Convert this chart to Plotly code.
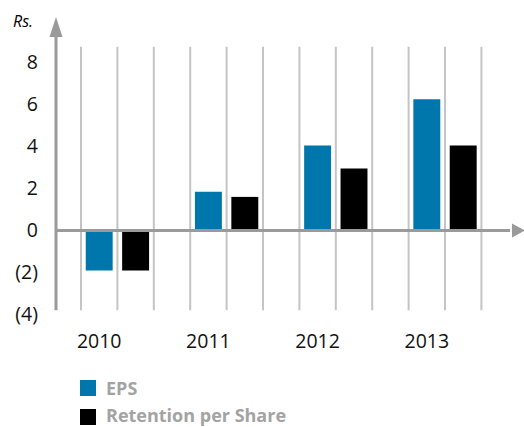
import plotly.graph_objects as go

# Data
years = ["2010", "2011", "2012", "2013"]
eps = [-1.9, 1.85, 4.05, 6.25]
retention = [-1.9, 1.6, 2.95, 4.05]
y_ticks = [-4, -2, 0, 2, 4, 6, 8]
y_tick_text = ["(4)", "(2)", "0", "2", "4", "6", "8"]

BLUE = "#0077AC"
BLACK = "#000000"
GRID = "#c4c4c4"
AXIS = "#9a9a9a"
LEGEND_TXT = "#a3a3a3"
FONT = "Open Sans"

# Each year takes three grid slots: EPS, retention, then a gap
slots_per_year = 3
bar_w = 0.74
x_eps = [slots_per_year * i + 0.5 for i in range(len(years))]
x_ret = [slots_per_year * i + 1.5 for i in range(len(years))]

fig = go.Figure()
fig.add_trace(go.Bar(x=x_eps, y=eps, width=bar_w, marker=dict(color=BLUE, line=dict(width=0)),
                     name="EPS", showlegend=False))
fig.add_trace(go.Bar(x=x_ret, y=retention, width=bar_w, marker=dict(color=BLACK, line=dict(width=0)),
                     name="Retention per Share", showlegend=False))

grid_bottom, grid_top = -3.8, 8.75
shapes = []
# vertical grid lines at slot boundaries
for k in range(slots_per_year * len(years)):
    shapes.append(dict(type="line", xref="x", yref="y", x0=k, x1=k, y0=grid_bottom, y1=grid_top,
                       line=dict(color=GRID, width=2), layer="below"))
# y axis with arrow
shapes.append(dict(type="line", xref="paper", yref="y", x0=0, x1=0, y0=grid_bottom, y1=9.5,
                   line=dict(color=AXIS, width=3), layer="above"))
shapes.append(dict(type="path", xref="paper", yref="paper", xsizemode="pixel", ysizemode="pixel",
                   xanchor=0, yanchor=1, path="M -6.5,-27 L 0,-7 L 6.5,-27 Z",
                   fillcolor=AXIS, line=dict(width=0), layer="above"))
# x axis (zero line) with arrow
shapes.append(dict(type="line", xref="paper", yref="y", x0=0, x1=0.97, y0=0, y1=0,
                   line=dict(color=AXIS, width=3), layer="above"))
shapes.append(dict(type="path", xref="paper", yref="y", xsizemode="pixel", ysizemode="pixel",
                   xanchor=1, yanchor=0, path="M -12,7 L 1,0 L -12,-7 Z",
                   fillcolor=AXIS, line=dict(width=0), layer="above"))
# legend swatches
for color, top in [(BLUE, -60), (BLACK, -89)]:
    shapes.append(dict(type="rect", xref="paper", yref="paper", xsizemode="pixel", ysizemode="pixel",
                       xanchor=0, yanchor=0, x0=24, x1=40, y0=top - 16, y1=top,
                       fillcolor=color, line=dict(width=0)))

annotations = [
    dict(text="<i>Rs.</i>", xref="paper", yref="paper", x=0, y=1, xanchor="left", yanchor="middle",
         xshift=-45, yshift=-11, showarrow=False, font=dict(family=FONT, size=16, color="#000")),
]
for name, shift in [("EPS", -68), ("Retention per Share", -95)]:
    annotations.append(dict(text=f"<b>{name}</b>", xref="paper", yref="paper", x=0, y=0,
                            xanchor="left", yanchor="middle", xshift=49, yshift=shift,
                            showarrow=False, borderpad=0,
                            font=dict(family=FONT, size=18, color=LEGEND_TXT)))

fig.update_layout(
    width=524, height=427,
    margin=dict(l=56, r=0, t=10, b=107),
    paper_bgcolor="white", plot_bgcolor="white",
    font=dict(family=FONT, size=19.5, color="#111"),
    barmode="overlay",
    shapes=shapes, annotations=annotations,
    xaxis=dict(range=[-0.687, 12.17], tickvals=x_eps, ticktext=years, showgrid=False,
               zeroline=False, showline=False, ticks="", ticklabelstandoff=7, fixedrange=True),
    yaxis=dict(range=[-4.262, 10.5], tickvals=y_ticks, ticktext=y_tick_text, showgrid=False,
               zeroline=False, showline=False, ticks="", ticklabelstandoff=17, fixedrange=True),
)

fig.write_html("out.html")
